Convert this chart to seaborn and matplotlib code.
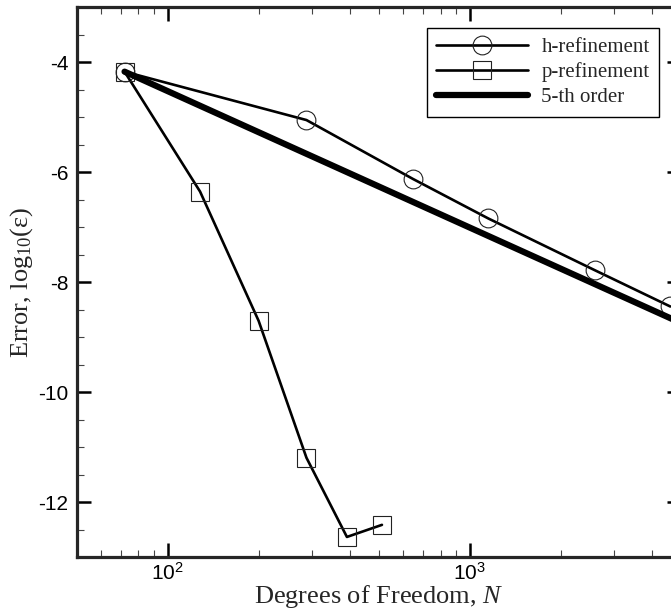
import numpy as np
import pandas as pd
import matplotlib
matplotlib.use("Agg")
import matplotlib.pyplot as plt
import seaborn as sns
from matplotlib.ticker import LogLocator, MultipleLocator, NullFormatter

# data
h_dof = [72, 288, 648, 1152, 2592, 4608]
h_err = [-4.17, -5.05, -6.12, -6.84, -7.78, -8.44]
p_dof = [72, 128, 200, 288, 392, 512]
p_err = [-4.17, -6.35, -8.70, -11.19, -12.63, -12.41]
ref_dof = [72, 5000]
ref_err = [-4.17, -8.74]
labels = ["h-refinement", "p-refinement", "5-th order"]

sns.set_style("ticks")
plt.rcParams["font.family"] = ["Liberation Sans", "DejaVu Sans"]
plt.rcParams["mathtext.fontset"] = "custom"
plt.rcParams["mathtext.rm"] = "Liberation Serif"
plt.rcParams["mathtext.it"] = "Liberation Serif:italic"
plt.rcParams["axes.unicode_minus"] = False

fig = plt.figure(figsize=(6.71, 6.12), dpi=100)
ax = fig.add_axes([76.7 / 671, (612 - 557.3) / 612, 604.3 / 671, 550 / 612])

sns.lineplot(x=h_dof, y=h_err, ax=ax, color="black", lw=1.9, marker="o",
             markersize=13.5, markerfacecolor="none", markeredgecolor="#222222",
             markeredgewidth=0.8, sort=False, label=labels[0], clip_on=False)
sns.lineplot(x=p_dof, y=p_err, ax=ax, color="black", lw=1.9, marker="s",
             markersize=12.5, markerfacecolor="none", markeredgecolor="#222222",
             markeredgewidth=0.8, sort=False, label=labels[1], clip_on=False)
sns.lineplot(x=ref_dof, y=ref_err, ax=ax, color="black", lw=4.5, sort=False,
             label=labels[2])

ax.set_xscale("log")
ax.set_xlim(50, 5000)
ax.set_ylim(-13, -3)
ax.xaxis.set_major_locator(LogLocator(base=10, numticks=10))
ax.xaxis.set_minor_locator(LogLocator(base=10, subs=np.arange(2, 10), numticks=20))
ax.xaxis.set_minor_formatter(NullFormatter())
ax.yaxis.set_major_locator(MultipleLocator(2))
ax.yaxis.set_minor_locator(MultipleLocator(0.5))

for s in ax.spines.values():
    s.set_linewidth(2.3)
ax.tick_params(which="both", direction="in", top=True, right=True,
               labelsize=15, colors="black")
ax.tick_params(which="major", length=10, width=1.8, pad=6)
ax.tick_params(axis="x", which="major", pad=3)
ax.tick_params(which="minor", length=5, width=0.8, color="#444444")

ax.set_xlabel("Degrees of Freedom, $N$", family="Liberation Serif", fontsize=19, labelpad=0)
ax.set_ylabel("Error, log$_{10}$(ε)", family="Liberation Serif", fontsize=19, labelpad=2)

leg = ax.legend(loc="upper right", bbox_to_anchor=(0.9636, 0.9618), borderaxespad=0,
                frameon=True, fancybox=False, edgecolor="black", framealpha=1,
                prop={"family": "Liberation Serif", "size": 15},
                handlelength=4.4, handletextpad=0.65, labelspacing=0.25,
                borderpad=0.45)
leg.get_frame().set_linewidth(1.0)

fig.savefig("out.png", dpi=100)
